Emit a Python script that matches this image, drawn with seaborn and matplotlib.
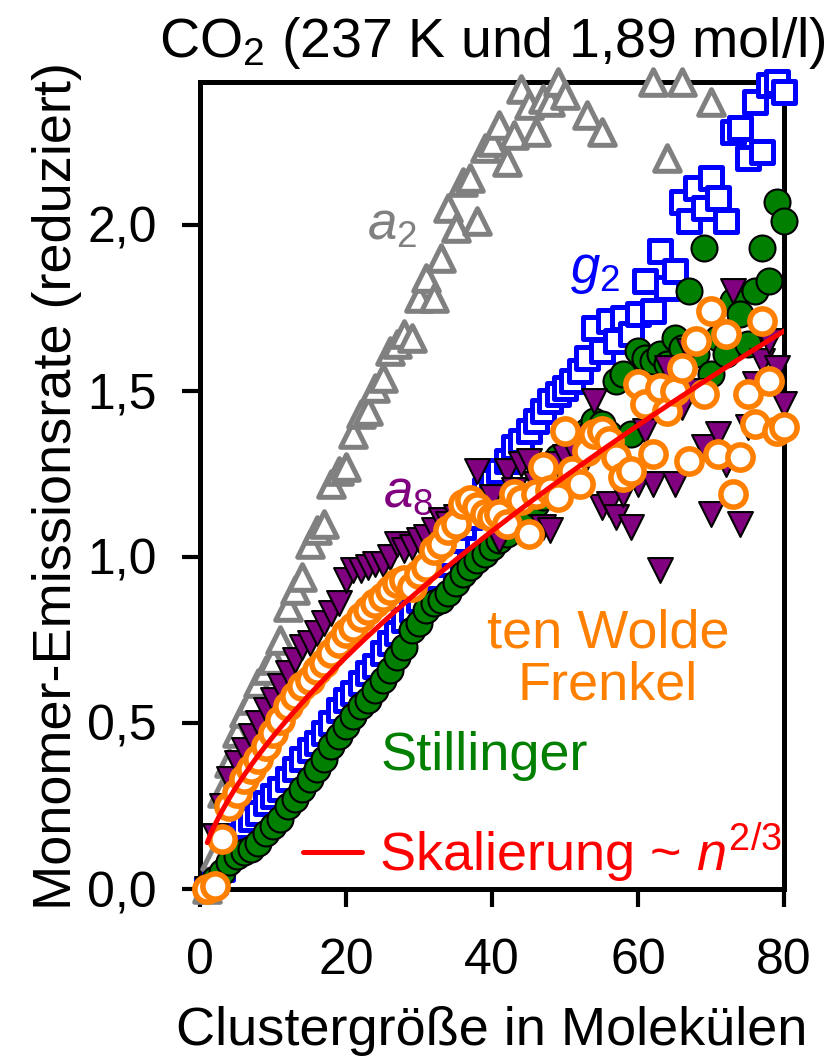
import numpy as np
import pandas as pd
import matplotlib
matplotlib.use("Agg")
import matplotlib.pyplot as plt
from matplotlib.lines import Line2D
import seaborn as sns

sns.set_style("ticks")
plt.rcParams["font.family"] = ["Liberation Sans", "DejaVu Sans"]
plt.rcParams["mathtext.fontset"] = "custom"
plt.rcParams["mathtext.rm"] = "Liberation Sans"
plt.rcParams["mathtext.it"] = "Liberation Sans:italic"
plt.rcParams["mathtext.bf"] = "Liberation Sans:bold"
plt.rcParams["text.color"] = "black"
plt.rcParams["axes.labelcolor"] = "black"
plt.rcParams["xtick.color"] = "black"
plt.rcParams["ytick.color"] = "black"

# ---------------- data ----------------
n_a2 = list(range(1, 51)) + [53, 55, 62, 64, 66, 70]
a2 = [0.00, 0.10, 0.29, 0.38, 0.47, 0.53, 0.57, 0.62, 0.66, 0.69,
      0.75, 0.85, 0.90, 0.94, 1.04, 1.08, 1.10, 1.22, 1.26, 1.27,
      1.37, 1.43, 1.44, 1.51, 1.54, 1.62, 1.64, 1.67, 1.66, 1.78,
      1.84, 1.78, 1.90, 2.05, 1.99, 2.13, 2.14, 2.01, 2.23, 2.25,
      2.30, 2.19, 2.27, 2.41, 2.36, 2.28, 2.38, 2.37, 2.43, 2.39,
      2.33, 2.28, 2.43, 2.20, 2.43, 2.37]

n_all = list(range(1, 81))
g2 = [0.00, 0.02, 0.06, 0.12, 0.16, 0.19, 0.21, 0.23, 0.26, 0.28,
      0.30, 0.33, 0.36, 0.39, 0.42, 0.44, 0.47, 0.50, 0.54, 0.57,
      0.59, 0.62, 0.65, 0.67, 0.71, 0.74, 0.77, 0.81, 0.84, 0.87,
      0.91, 0.94, 0.98, 1.01, 1.05, 1.09, 1.12, 1.16, 1.20, 1.23,
      1.26, 1.29, 1.33, 1.35, 1.38, 1.41, 1.44, 1.47, 1.49, 1.51,
      1.53, 1.56, 1.60, 1.69, 1.62, 1.71, 1.65, 1.72, 1.67, 1.73,
      1.83, 1.74, 1.92, 1.81, 1.86, 2.07, 2.01, 2.11, 2.05, 2.14,
      2.08, 2.01, 2.28, 2.29, 2.20, 2.37, 2.22, 2.42, 2.43, 2.40]

stillinger = [0.00, 0.03, 0.05, 0.08, 0.10, 0.11, 0.12, 0.14, 0.17, 0.19,
              0.21, 0.25, 0.27, 0.30, 0.33, 0.36, 0.39, 0.43, 0.46, 0.49,
              0.52, 0.55, 0.57, 0.60, 0.63, 0.66, 0.70, 0.73, 0.78, 0.80,
              0.84, 0.86, 0.87, 0.89, 0.92, 0.95, 0.97, 0.99, 1.01, 1.03,
              1.05, 1.07, 1.10, 1.12, 1.14, 1.16, 1.18, 1.20, 1.30, 1.28,
              1.33, 1.35, 1.38, 1.41, 1.40, 1.37, 1.53, 1.55, 1.37, 1.62,
              1.60, 1.59, 1.61, 1.58, 1.66, 1.63, 1.80, 1.61, 1.93, 1.55,
              1.66, 1.61, 1.77, 1.73, 1.64, 1.80, 1.93, 1.83, 2.07, 2.01]

a8 = [0.00, 0.16, 0.25, 0.33, 0.38, 0.42, 0.46, 0.50, 0.54, 0.57,
      0.61, 0.65, 0.69, 0.73, 0.74, 0.77, 0.80, 0.83, 0.86, 0.93,
      0.96, 0.96, 0.97, 0.98, 0.98, 1.00, 1.04, 1.02, 1.03, 1.05,
      1.06, 1.08, 1.11, 1.10, 1.12, 1.14, 1.16, 1.26, 1.15, 1.18,
      1.05, 1.26, 1.20, 1.28, 1.29, 1.22, 1.09, 1.08, 1.28, 1.30,
      1.33, 1.36, 1.30, 1.47, 1.15, 1.16, 1.12, 1.19, 1.09, 1.22,
      1.38, 1.22, 0.96, 1.57, 1.22, 1.45, 1.62, 1.50, 1.33, 1.13,
      1.37, 1.28, 1.80, 1.10, 1.39, 1.52, 1.59, 1.65, 1.57, 1.46]

ten_wolde = [0.00, 0.01, 0.15, 0.25, 0.29, 0.33, 0.36, 0.39, 0.43, 0.47,
             0.51, 0.55, 0.58, 0.61, 0.63, 0.66, 0.68, 0.71, 0.74, 0.77,
             0.79, 0.82, 0.84, 0.86, 0.88, 0.90, 0.92, 0.93, 0.91, 0.95,
             0.97, 1.02, 1.04, 1.08, 1.10, 1.16, 1.17, 1.15, 1.13, 1.12,
             1.13, 1.10, 1.19, 1.17, 1.07, 1.19, 1.27, 1.20, 1.18, 1.38,
             1.26, 1.22, 1.32, 1.37, 1.38, 1.35, 1.30, 1.24, 1.26, 1.52,
             1.46, 1.31, 1.51, 1.44, 1.50, 1.57, 1.29, 1.65, 1.49, 1.74,
             1.31, 1.67, 1.19, 1.30, 1.49, 1.40, 1.71, 1.53, 1.38, 1.39]

# scaling law  y = offset + amp * n^(2/3)
scale_offset = 0.052
scale_amp = 0.0877
n_fit = np.linspace(1, 80, 200)
fit = scale_offset + scale_amp * n_fit ** (2.0 / 3.0)

x_ticks = [0, 20, 40, 60, 80]
x_ticklabels = ["0", "20", "40", "60", "80"]
y_ticks = [0.0, 0.5, 1.0, 1.5, 2.0]
y_ticklabels = ["0,0", "0,5", "1,0", "1,5", "2,0"]

# ---------------- colours ----------------
c_gray = "#808080"
c_blue = "#0000ff"
c_purple = "#800080"
c_green = "#007f00"
c_orange = "#ff8000"
c_red = "#ff0000"

# ---------------- figure ----------------
W, H = 836, 1058
fig = plt.figure(figsize=(W / 100, H / 100), dpi=100)
ax = fig.add_axes([200 / W, (H - 889) / H, 584 / W, (889 - 82) / H])

sns.scatterplot(x=n_all, y=g2, marker="s", s=230, color="white",
                edgecolor=c_blue, linewidth=3.6, ax=ax, clip_on=False, zorder=3)
sns.scatterplot(x=n_a2, y=a2, marker="^", s=340, color="white",
                edgecolor=c_gray, linewidth=3.6, ax=ax, clip_on=False, zorder=3)
sns.scatterplot(x=n_all, y=stillinger, marker="o", s=350, color=c_green,
                edgecolor="black", linewidth=1.5, ax=ax, clip_on=False, zorder=4)
sns.scatterplot(x=n_all, y=a8, marker="v", s=320, color=c_purple,
                edgecolor="black", linewidth=1.5, ax=ax, clip_on=False, zorder=5)
sns.scatterplot(x=n_all, y=ten_wolde, marker="o", s=330, color="white",
                edgecolor=c_orange, linewidth=4.0, ax=ax, clip_on=False, zorder=6)
sns.lineplot(x=n_fit, y=fit, color=c_red, linewidth=3.6, ax=ax, zorder=7)

ax.set_xlim(0, 80)
ax.set_ylim(0, 2.43)
ax.set_xticks(x_ticks)
ax.set_xticklabels(x_ticklabels)
ax.set_yticks(y_ticks)
ax.set_yticklabels(y_ticklabels)

for sp in ax.spines.values():
    sp.set_linewidth(3.6)
    sp.set_color("black")
ax.tick_params(axis="both", direction="out", width=3.0, color="black",
               labelsize=36, labelcolor="black")
ax.tick_params(axis="x", length=13, pad=22)
ax.tick_params(axis="y", length=13, pad=18)

ax.set_xlabel("Clustergröße in Molekülen", fontsize=39, labelpad=16)
ax.set_ylabel("Monomer-Emissionsrate (reduziert)", fontsize=39, labelpad=4)
ax.set_title("CO$_2$ (237 K und 1,89 mol/l)", fontsize=40, pad=18)

# series labels
ax.text(22.9, 1.955, "$a_2$", color=c_gray, fontsize=38)
ax.text(50.7, 1.825, "$g_2$", color=c_blue, fontsize=38)
ax.text(25.1, 1.15, "$a_8$", color=c_purple, fontsize=38)
ax.text(55.9, 0.57, "ten Wolde\nFrenkel", color=c_orange, fontsize=39,
        ha="center", va="baseline", multialignment="center", linespacing=1.05)
ax.text(24.7, 0.358, "Stillinger", color=c_green, fontsize=39)

key = Line2D([], [], color=c_red, linewidth=3.6)
ax.legend([key], ["Skalierung ~ $n^{2/3}$"], loc="lower left",
          bbox_to_anchor=(0.176, 0.005), frameon=False, fontsize=39,
          handlelength=1.1, handletextpad=0.3, borderpad=0,
          borderaxespad=0, labelcolor=c_red)

fig.savefig("out.png", dpi=100)
